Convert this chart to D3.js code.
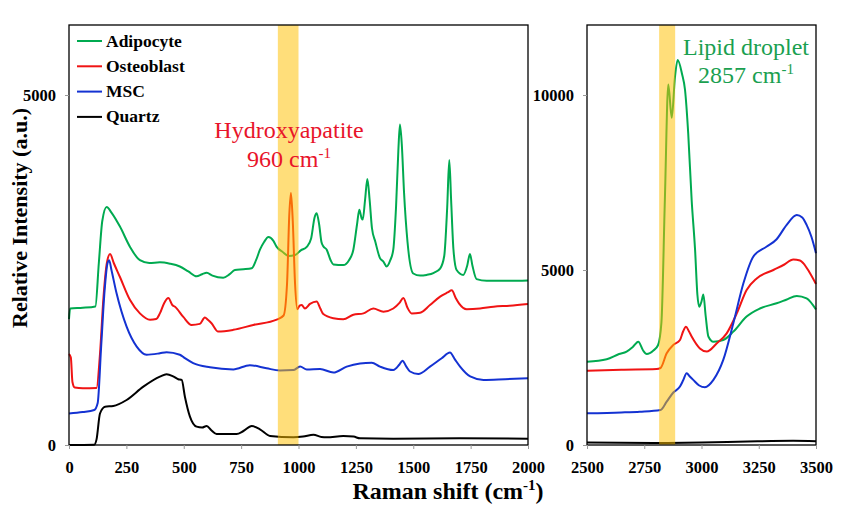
<!DOCTYPE html>
<html><head><meta charset="utf-8">
<script src="https://cdn.jsdelivr.net/npm/d3@7"></script>
<style>body{margin:0;background:#fff}svg{display:block}</style>
</head><body>
<svg id="c" width="842" height="508"></svg>
<script>
// ---------- data ----------
const seriesNames = ["Adipocyte", "Osteoblast", "MSC", "Quartz"];
const seriesColors = ["#00AA50", "#F01414", "#1432D2", "#000000"];

const leftTicksX = [0, 250, 500, 750, 1000, 1250, 1500, 1750, 2000];
const leftTicksY = [0, 5000];
const rightTicksX = [2500, 2750, 3000, 3250, 3500];
const rightTicksY = [0, 5000, 10000];

const leftBand = [910, 1000];
const rightBand = [2815, 2885];

const adipocyteLow = [[0,1800],[5,1950],[60,1960],[115,1980],[130,2600],[145,3200],[164,3400],[185,3320],[222,3120],[266,2830],[309,2640],[350,2600],[396,2610],[440,2590],[483,2550],[520,2480],[556,2410],[580,2440],[600,2460],[625,2420],[672,2390],[700,2440],[723,2500],[760,2510],[796,2525],[815,2640],[832,2790],[850,2900],[869,2970],[890,2920],[905,2830],[930,2760],[956,2700],[985,2715],[1010,2780],[1036,2830],[1055,2950],[1070,3250],[1079,3310],[1090,3150],[1100,2900],[1108,2840],[1123,2790],[1140,2640],[1152,2580],[1195,2570],[1220,2640],[1239,2790],[1255,3150],[1265,3360],[1275,3240],[1280,3220],[1290,3500],[1300,3800],[1310,3500],[1320,3100],[1335,2900],[1355,2670],[1370,2620],[1384,2550],[1400,2640],[1413,2790],[1425,3400],[1435,4200],[1442,4580],[1450,4300],[1460,3600],[1475,2900],[1500,2450],[1530,2420],[1558,2430],[1590,2460],[1617,2520],[1635,2700],[1648,3400],[1657,4070],[1665,3500],[1675,2800],[1689,2500],[1718,2430],[1735,2560],[1747,2730],[1758,2560],[1776,2370],[1820,2345],[1900,2345],[2000,2350]];
const osteoblastLow = [[0,1300],[8,1250],[15,900],[25,820],[60,810],[120,815],[135,1300],[150,2100],[165,2600],[179,2730],[195,2600],[222,2400],[266,2070],[309,1880],[353,1790],[380,1800],[396,1880],[415,2030],[433,2100],[450,2000],[462,1975],[498,1830],[534,1715],[570,1730],[592,1820],[605,1790],[621,1740],[650,1620],[716,1645],[803,1715],[905,1790],[935,1850],[950,2300],[960,3300],[967,3600],[975,3200],[985,2300],[995,1940],[1005,1990],[1014,2000],[1028,1950],[1050,2015],[1079,2050],[1095,1950],[1108,1870],[1152,1810],[1195,1795],[1239,1860],[1283,1880],[1326,1950],[1370,1905],[1413,1950],[1440,2030],[1457,2100],[1475,1960],[1493,1880],[1530,1890],[1573,2000],[1617,2120],[1650,2180],[1668,2210],[1685,2100],[1700,2020],[1733,1940],[1791,1950],[1850,1975],[1920,1990],[2000,2015]];
const mscLow = [[0,450],[60,470],[110,500],[125,600],[140,1400],[155,2200],[168,2600],[175,2640],[185,2500],[207,2170],[251,1690],[295,1405],[338,1290],[396,1310],[425,1325],[483,1290],[505,1240],[541,1170],[614,1110],[716,1080],[788,1140],[861,1095],[919,1065],[977,1070],[1007,1120],[1036,1080],[1094,1085],[1152,1035],[1210,1120],[1268,1165],[1319,1175],[1355,1120],[1413,1070],[1440,1150],[1453,1205],[1470,1120],[1486,1050],[1522,1015],[1573,1120],[1624,1240],[1660,1320],[1680,1230],[1704,1120],[1748,980],[1806,930],[1900,940],[2000,952]];
const quartzLow = [[0,0],[110,5],[120,80],[135,450],[157,548],[193,557],[251,643],[324,833],[396,976],[425,1010],[454,980],[476,940],[491,930],[505,690],[527,405],[556,262],[580,250],[600,271],[620,210],[643,157],[730,157],[760,200],[796,271],[832,224],[876,129],[977,110],[1020,120],[1065,148],[1100,115],[1123,110],[1195,129],[1240,120],[1268,95],[1413,90],[1700,95],[2000,90]];

const adipocyteHigh = [[2500,2380],[2586,2450],[2640,2600],[2673,2670],[2700,2800],[2724,2950],[2745,2700],[2761,2600],[2790,2700],[2810,2850],[2825,3500],[2840,7000],[2855,10300],[2870,9350],[2884,10500],[2896,11000],[2915,10600],[2928,10150],[2942,8900],[2957,7000],[2972,5570],[2982,4300],[2990,3950],[3000,4100],[3008,4300],[3018,3700],[3030,3100],[3052,2950],[3095,3000],[3139,3240],[3197,3670],[3255,3900],[3328,4050],[3370,4150],[3416,4260],[3459,4190],[3500,3870]];
const osteoblastHigh = [[2500,2120],[2650,2150],[2804,2170],[2821,2200],[2848,2620],[2877,2860],[2906,3000],[2920,3250],[2932,3380],[2945,3250],[2957,3100],[2993,2760],[3023,2670],[3066,2900],[3110,3190],[3154,3760],[3197,4430],[3241,4760],[3314,5000],[3360,5150],[3401,5300],[3430,5270],[3445,5190],[3470,4950],[3500,4600]];
const mscHigh = [[2500,905],[2650,930],[2731,952],[2821,1000],[2848,1240],[2877,1500],[2906,1670],[2920,1850],[2935,2050],[2950,1950],[2964,1860],[2990,1700],[3015,1650],[3052,1860],[3095,2430],[3139,3480],[3183,4620],[3226,5380],[3285,5670],[3328,5880],[3372,6290],[3416,6570],[3440,6500],[3459,6290],[3480,5950],[3500,5480]];
const quartzHigh = [[2500,70],[2800,60],[3000,70],[3200,100],[3400,120],[3500,110]];

// ---------- drawing ----------
const svg = d3.select("#c");
const serif = "'Liberation Serif','Times New Roman',serif";

function panel(opt) {
  const x = d3.scaleLinear().domain(opt.xDomain).range([opt.x0, opt.x1]);
  const y = d3.scaleLinear().domain(opt.yDomain).range([445, 25]);
  const g = svg.append("g");
  const line = d3.line().x(d => x(d[0])).y(d => y(d[1])).curve(d3.curveMonotoneX);
  opt.data.forEach((s, i) => {
    g.append("path").datum(s).attr("d", line)
      .attr("fill", "none").attr("stroke", seriesColors[i]).attr("stroke-width", 2);
  });
  // highlighted band (drawn over the spectra, translucent)
  g.append("rect").attr("x", x(opt.band[0])).attr("width", x(opt.band[1]) - x(opt.band[0]))
    .attr("y", 25).attr("height", 420).attr("fill", "#FFC000").attr("opacity", 0.52);
  // frame
  g.append("rect").attr("x", opt.x0).attr("y", 25).attr("width", opt.x1 - opt.x0).attr("height", 420)
    .attr("fill", "none").attr("stroke", "#000").attr("stroke-width", 1.3);
  const xa = g.append("g").attr("transform", "translate(0,445)")
    .call(d3.axisBottom(x).tickValues(opt.xTicks).tickSize(4).tickPadding(12).tickFormat(d3.format("d")));
  const ya = g.append("g").attr("transform", `translate(${opt.x0},0)`)
    .call(d3.axisLeft(y).tickValues(opt.yTicks).tickSize(4).tickPadding(9).tickFormat(d3.format("d")));
  [xa, ya].forEach(a => {
    a.select(".domain").remove();
    a.selectAll(".tick line").attr("stroke", "#999");
    a.selectAll("text").attr("font-family", serif).attr("font-weight", "bold")
      .attr("font-size", 16.5).attr("fill", "#000");
  });
  return { x, y, g };
}

panel({ x0: 69, x1: 528, xDomain: [0, 2000], yDomain: [0, 6000],
  xTicks: leftTicksX, yTicks: leftTicksY, band: leftBand,
  data: [adipocyteLow, osteoblastLow, mscLow, quartzLow] });
panel({ x0: 587, x1: 816, xDomain: [2500, 3500], yDomain: [0, 12000],
  xTicks: rightTicksX, yTicks: rightTicksY, band: rightBand,
  data: [adipocyteHigh, osteoblastHigh, mscHigh, quartzHigh] });

// legend
const lg = svg.append("g");
seriesNames.forEach((n, i) => {
  const yy = 41 + i * 25.3;
  lg.append("line").attr("x1", 77).attr("x2", 102).attr("y1", yy).attr("y2", yy)
    .attr("stroke", seriesColors[i]).attr("stroke-width", 2);
  lg.append("text").attr("x", 106).attr("y", yy + 5.5).text(n)
    .attr("font-family", serif).attr("font-weight", "bold").attr("font-size", 17.5);
});

// annotations
function ann(cx, y1, t1, y2, t2, color) {
  svg.append("text").attr("x", cx).attr("y", y1).attr("text-anchor", "middle")
    .attr("font-family", serif).attr("font-size", 24).attr("fill", color).text(t1);
  const t = svg.append("text").attr("x", cx).attr("y", y2).attr("text-anchor", "middle")
    .attr("font-family", serif).attr("font-size", 24).attr("fill", color);
  t.append("tspan").text(t2 + " cm");
  t.append("tspan").attr("dy", -9).attr("font-size", 15).text("-1");
}
ann(289, 138, "Hydroxyapatite", 167, "960", "#E8142A");
ann(746, 55, "Lipid droplet", 83, "2857", "#1AA050");

// axis titles
const xt = svg.append("text").attr("x", 448).attr("y", 499).attr("text-anchor", "middle")
  .attr("font-family", serif).attr("font-weight", "bold").attr("font-size", 24);
xt.append("tspan").text("Raman shift (cm");
xt.append("tspan").attr("dy", -9).attr("font-size", 15).text("-1");
xt.append("tspan").attr("dy", 9).text(")");

svg.append("text").attr("transform", "translate(27,218) rotate(-90)").attr("text-anchor", "middle")
  .attr("font-family", serif).attr("font-weight", "bold").attr("font-size", 22)
  .text("Relative Intensity (a.u.)");
</script>
</body></html>
